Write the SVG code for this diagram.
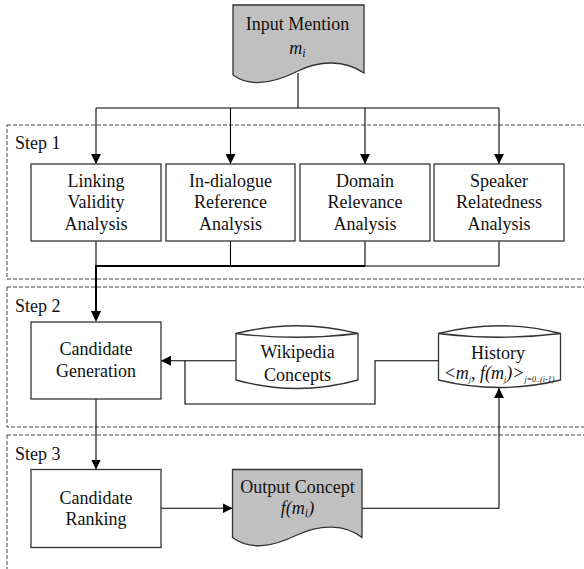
<svg xmlns="http://www.w3.org/2000/svg" width="584" height="569" viewBox="0 0 584 569" font-family="Liberation Serif, Times New Roman, serif">
<defs>
<marker id="ah" viewBox="0 0 10 10" refX="10" refY="5" markerWidth="10" markerHeight="10" markerUnits="userSpaceOnUse" orient="auto">
<path d="M0,0 L10,5 L0,10 Z" fill="#000"/>
</marker>
<style>
text{font-size:18px;fill:#111;text-anchor:middle}
.lbl{text-anchor:start}
.it{font-style:italic}
.box{fill:#fff;stroke:#333;stroke-width:1.3}
.doc{fill:#c0c0c0;stroke:#333;stroke-width:1.3}
.step{fill:none;stroke:#444;stroke-width:1;stroke-dasharray:4,2}
.ln{fill:none;stroke:#000;stroke-width:1.1}
.thick{fill:none;stroke:#000;stroke-width:2}
</style>
</defs>
<rect width="584" height="569" fill="#fff"/>
<g id="steps">
<rect class="step" x="7" y="125" width="600" height="154"/>
<rect class="step" x="7" y="287" width="600" height="140"/>
<rect class="step" x="7" y="435" width="600" height="200"/>
<text class="lbl" x="15" y="149">Step 1</text>
<text class="lbl" x="15" y="312">Step 2</text>
<text class="lbl" x="15" y="460">Step 3</text>
</g>
<g id="connectors">
<path class="ln" d="M298,73 V108"/>
<path class="ln" d="M96,108 H499"/>
<path class="ln" d="M96,108 V164" marker-end="url(#ah)"/>
<path class="ln" d="M230.5,108 V164" marker-end="url(#ah)"/>
<path class="ln" d="M365,108 V164" marker-end="url(#ah)"/>
<path class="ln" d="M499,108 V164" marker-end="url(#ah)"/>
<path class="ln" d="M96,241 V266"/>
<path class="ln" d="M230.5,241 V266"/>
<path class="ln" d="M365,241 V266"/>
<path class="ln" d="M499,241 V266 H365"/>
<path class="thick" d="M365,266 H96 V312"/>
<path d="M91,311 L96,322 L101,311 Z" fill="#000"/>
<path class="ln" d="M236,360.7 H161" marker-end="url(#ah)"/>
<path class="ln" d="M438,360.7 H375 V404 H185 V360.7"/>
<path class="ln" d="M96,399 V469.5" marker-end="url(#ah)"/>
<path class="ln" d="M161,508.3 H232.5" marker-end="url(#ah)"/>
<path class="ln" d="M362,508.3 H499 V388" marker-end="url(#ah)"/>
</g>
<g id="input-mention">
<path class="doc" d="M233,5 H364 V73 C345,60 320,60 298,71 C276,82 252,89 233,75 Z"/>
<text x="297.5" y="30">Input Mention</text>
<text class="it" x="297.5" y="54">m<tspan font-size="12" dy="3">i</tspan></text>
</g>
<g id="linking-validity">
<rect class="box" x="31" y="164" width="130" height="77"/>
<text x="96" y="186.7">Linking</text>
<text x="96" y="208.3">Validity</text>
<text x="96" y="230">Analysis</text>
</g>
<g id="in-dialogue">
<rect class="box" x="166" y="164" width="129" height="77"/>
<text x="230.5" y="186.7">In-dialogue</text>
<text x="230.5" y="208.3">Reference</text>
<text x="230.5" y="230">Analysis</text>
</g>
<g id="domain-relevance">
<rect class="box" x="300" y="164" width="130" height="77"/>
<text x="365" y="186.7">Domain</text>
<text x="365" y="208.3">Relevance</text>
<text x="365" y="230">Analysis</text>
</g>
<g id="speaker-relatedness">
<rect class="box" x="434" y="164" width="130" height="77"/>
<text x="499" y="186.7">Speaker</text>
<text x="499" y="208.3">Relatedness</text>
<text x="499" y="230">Analysis</text>
</g>
<g id="candidate-generation">
<rect class="box" x="31" y="322" width="130" height="77"/>
<text x="96" y="355">Candidate</text>
<text x="96" y="376.7">Generation</text>
</g>
<g id="wikipedia-concepts">
<path class="box" d="M236,333.5 Q297,318 358,333.5 V380 Q297,397 236,380 Z"/>
<path class="box" fill="none" d="M236,333.5 Q297,341 358,333.5"/>
<text x="297.5" y="358.3">Wikipedia</text>
<text x="297.5" y="380.7">Concepts</text>
</g>
<g id="history">
<path class="box" d="M438.5,333.5 Q499.5,318 560.5,333.5 V380 Q499.5,395 438.5,380 Z"/>
<path class="box" fill="none" d="M438.5,333.5 Q499.5,341 560.5,333.5"/>
<text x="498" y="359.3">History</text>
<text class="it" x="499" y="379" font-size="12">&lt;m<tspan font-size="8" dy="3">j</tspan><tspan dy="-3">, f(m</tspan><tspan font-size="8" dy="3">j</tspan><tspan dy="-3">)&gt;</tspan><tspan font-size="8" dy="3">j=0..(i-1)</tspan></text>
</g>
<g id="candidate-ranking">
<rect class="box" x="31" y="469.5" width="130" height="78"/>
<text x="96" y="504">Candidate</text>
<text x="96" y="525">Ranking</text>
</g>
<g id="output-concept">
<path class="doc" d="M232.5,469.5 H362 V537.5 C345,524 320,524 297,535 C276,545 252,552 232.5,537.5 Z"/>
<text x="297.5" y="493.3">Output Concept</text>
<text class="it" x="297.5" y="514">f(m<tspan font-size="12" dy="3">i</tspan><tspan dy="-3">)</tspan></text>
</g>
</svg>
